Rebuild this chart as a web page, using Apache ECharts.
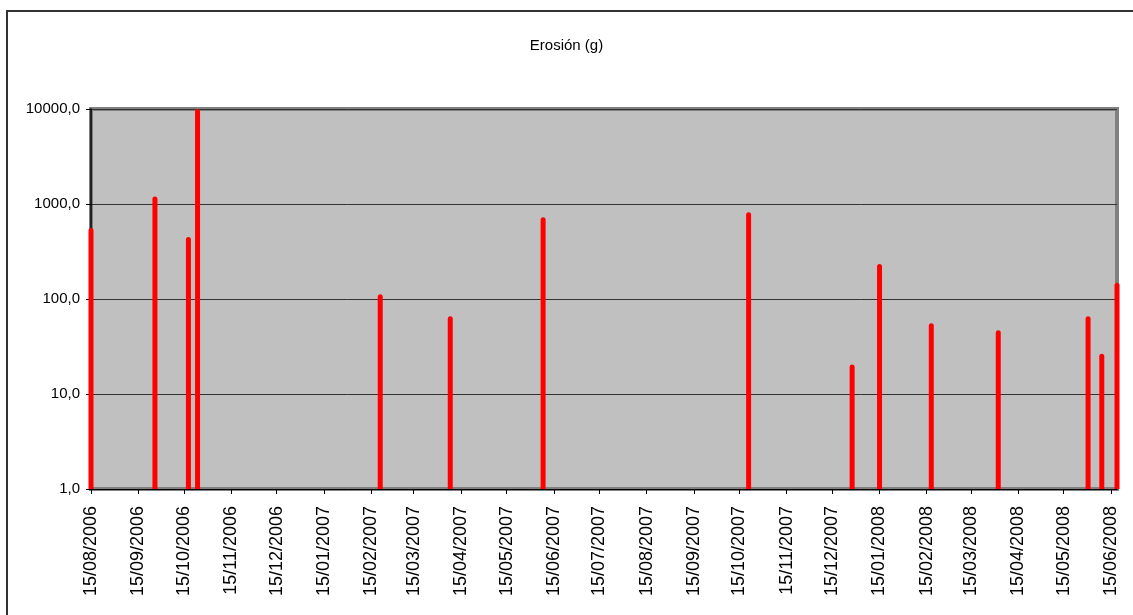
<!DOCTYPE html>
<html>
<head>
<meta charset="utf-8">
<script src="https://cdn.jsdelivr.net/npm/echarts@6/dist/echarts.min.js"></script>
<style>html,body{margin:0;padding:0;background:#fff;}#c{width:1133px;height:615px;}</style>
</head>
<body>
<div id="c"></div>
<script>
// ---- data ----
var eventDates = ['15/08/2006','26/09/2006','18/10/2006','24/10/2006','21/02/2007','08/04/2007','08/06/2007','21/10/2007','28/12/2007','15/01/2008','18/02/2008','02/04/2008','31/05/2008','09/06/2008','19/06/2008'];
var erosion = [560, 1200, 450, 10000, 112, 66, 724, 818, 20.5, 234, 55.5, 46.8, 65.8, 26.6, 148.6];
var tickLabels = ['15/08/2006','15/09/2006','15/10/2006','15/11/2006','15/12/2006','15/01/2007','15/02/2007','15/03/2007','15/04/2007','15/05/2007','15/06/2007','15/07/2007','15/08/2007','15/09/2007','15/10/2007','15/11/2007','15/12/2007','15/01/2008','15/02/2008','15/03/2008','15/04/2008','15/05/2008','15/06/2008'];
var yTicks = [1, 10, 100, 1000, 10000];
var axisStart = '15/08/2006';
var axisEnd = '19/06/2008';
var titleText = 'Erosión (g)';

// day number helpers (days since 01/01/2000, UTC based to avoid DST issues)
var DAY = 86400000;
function toDay(s){ var p = s.split('/'); return Math.round(Date.UTC(+p[2], +p[1]-1, +p[0]) / DAY); }
function pad(n){ return (n<10?'0':'')+n; }
function fmtDay(v){ var d = new Date(Math.round(v) * DAY); return pad(d.getUTCDate())+'/'+pad(d.getUTCMonth()+1)+'/'+d.getUTCFullYear(); }

var seriesData = eventDates.map(function(d,i){ return [toDay(d), erosion[i]]; });
var tickVals = tickLabels.map(toDay);

var font = 'Liberation Sans, Arial, sans-serif';
var chart = echarts.init(document.getElementById('c'), null, {renderer:'canvas'});
chart.setOption({
  animation: false,
  backgroundColor: '#ffffff',
  title: {
    text: titleText, left: 'center', top: 33,
    textStyle: {fontFamily: font, fontSize: 15, fontWeight: 'normal', color: '#000'}
  },
  graphic: [{
    type: 'rect', silent: true, z: -10,
    shape: {x: 7, y: 11, width: 1300, height: 800},
    style: {fill: 'none', stroke: '#333', lineWidth: 2}
  }],
  grid: {
    left: 91, right: 16, top: 109, bottom: 126,
    show: true, backgroundColor: '#C0C0C0', borderColor: '#808080', borderWidth: 4
  },
  xAxis: {
    type: 'value',
    min: toDay(axisStart), max: toDay(axisEnd),
    axisLine: {show: true, onZero: false, lineStyle: {color: '#000', width: 1}},
    axisTick: {show: true, inside: false, length: 5, customValues: tickVals, lineStyle: {color: '#000'}},
    axisLabel: {
      customValues: tickVals, rotate: 90, margin: 17,
      fontFamily: font, fontSize: 18, color: '#000',
      formatter: function(v){ return fmtDay(v); }
    },
    splitLine: {show: false}
  },
  yAxis: {
    type: 'log', logBase: 10, min: yTicks[0], max: yTicks[yTicks.length-1],
    axisLine: {show: true, onZero: false, lineStyle: {color: '#000', width: 1.5}},
    axisTick: {show: true, inside: false, length: 5, lineStyle: {color: '#000'}},
    axisLabel: {
      margin: 11, fontFamily: font, fontSize: 15, color: '#000',
      formatter: function(v){ return Number(v).toFixed(1).replace('.', ','); }
    },
    splitLine: {show: true, lineStyle: {color: '#333', width: 1}}
  },
  series: [{
    type: 'bar',
    name: titleText,
    data: seriesData,
    barWidth: 5,
    clip: true,
    itemStyle: {color: '#FF0000', borderRadius: [2.5, 2.5, 0, 0]}
  }]
});
</script>
</body>
</html>
